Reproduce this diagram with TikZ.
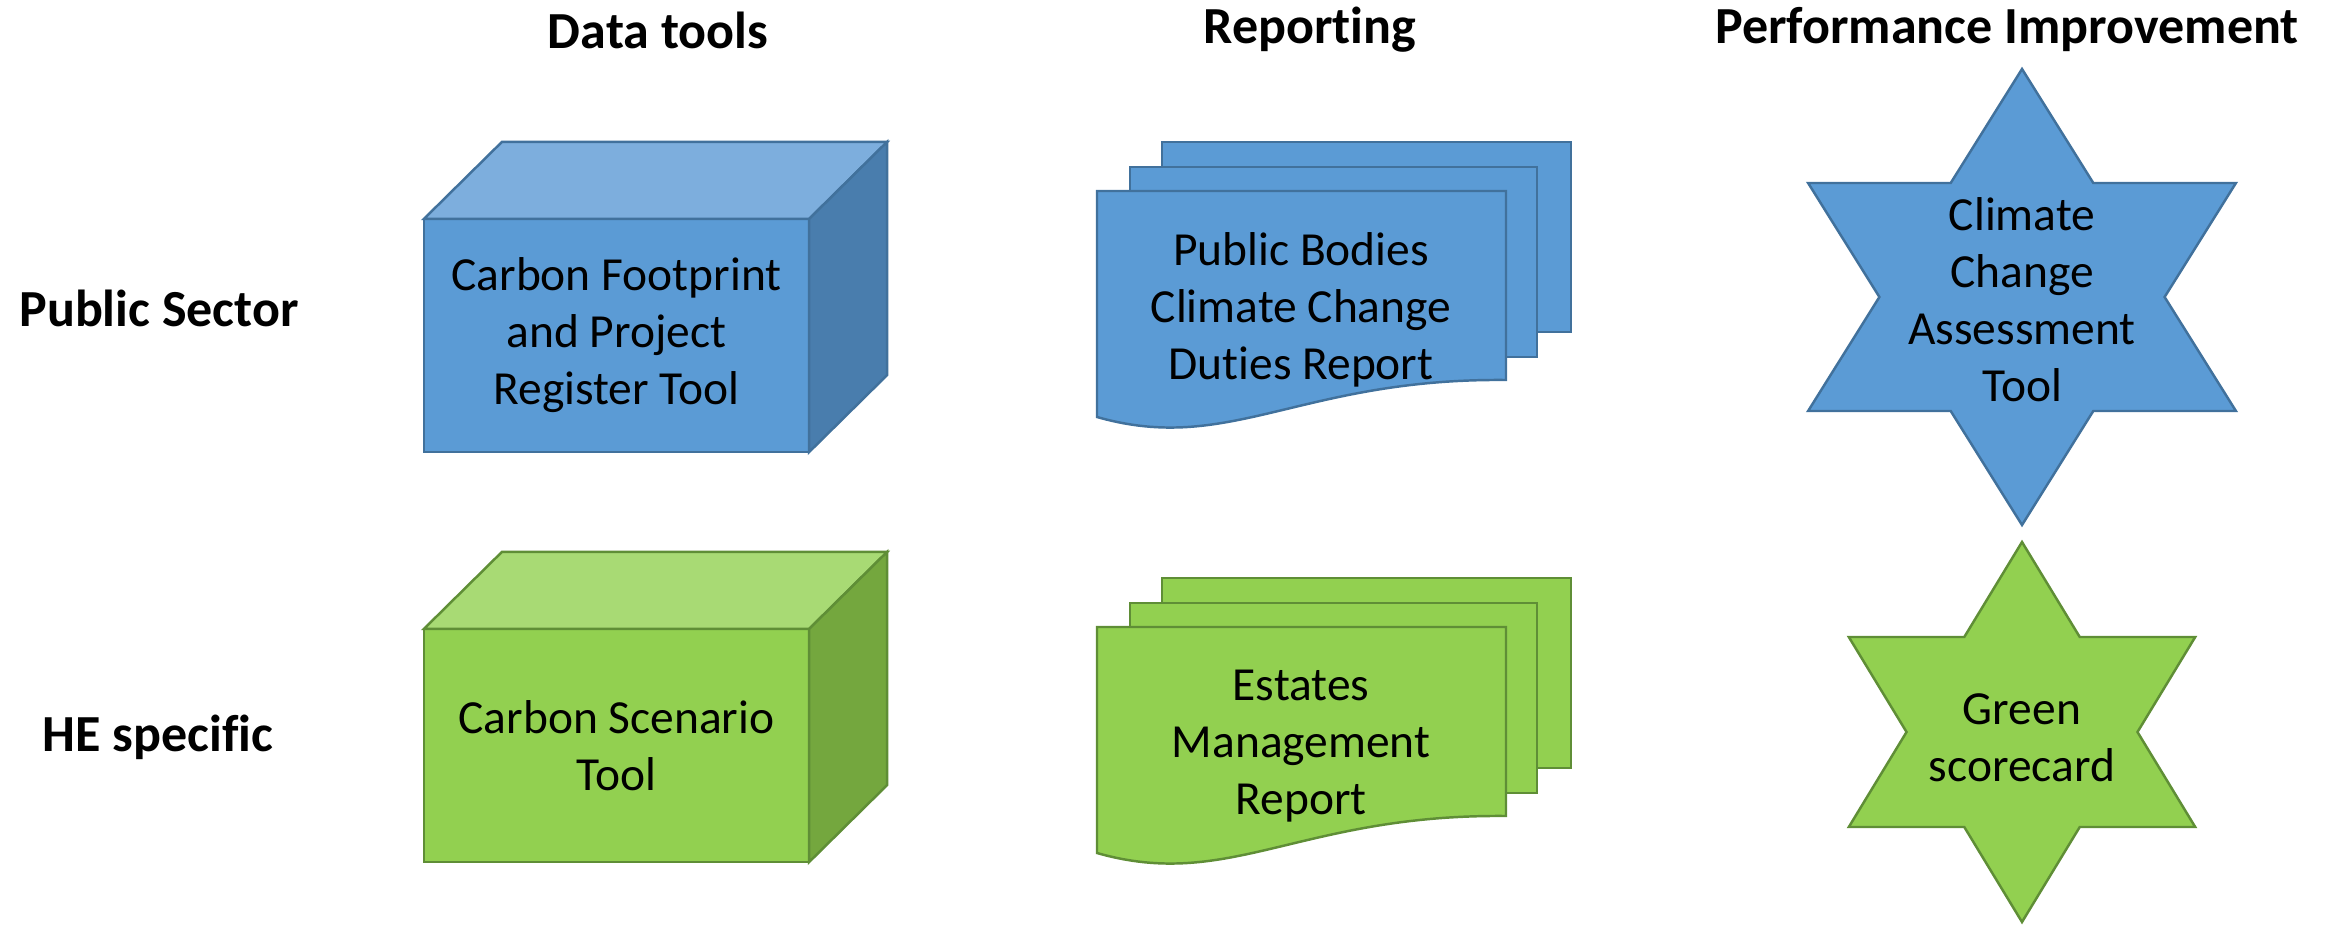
\documentclass[tikz,border=0pt]{standalone}
\usepackage{fontspec}
\setmainfont{Carlito}[Ligatures=CommonOff]
\usetikzlibrary{calc}

\definecolor{bluefront}{HTML}{5B9BD5}
\definecolor{bluetop}{HTML}{7DAEDD}
\definecolor{blueside}{HTML}{497DAD}
\definecolor{blueedge}{HTML}{41719C}
\definecolor{greenfront}{HTML}{92D050}
\definecolor{greentop}{HTML}{A8DA74}
\definecolor{greenside}{HTML}{74A73E}
\definecolor{greenedge}{HTML}{5F8E36}

\tikzset{
  body/.style={font=\fontsize{13.5}{16.2}\selectfont, align=center, inner sep=0pt},
  heading/.style={font=\fontsize{14.8}{17}\selectfont\bfseries, inner sep=0pt},
  edge/.style={draw=#1edge, line width=0.7pt, line join=miter},
  cubefront/.style={shape=rectangle, minimum width=3.85cm, minimum height=2.33cm, outer sep=0pt, body}
  }

% front face as a node, top and side faces hung off its corners
\newcommand\toolcube[4]{%
  \node[cubefront, edge=#3, fill=#3front] (#1) at #2 {#4};
  \draw[edge=#3, fill=#3top] (#1.north west) -- ++(78,-77) -- ($(#1.north east)+(78,-77)$) -- (#1.north east) -- cycle;
  \draw[edge=#3, fill=#3side] (#1.north east) -- ++(78,-77) -- ($(#1.south east)+(78,-77)$) -- (#1.south east) -- cycle;
}

% three stacked pages, #2 is the top left corner of the front one
\newcommand\reportstack[4]{%
  \begin{scope}[shift={#2}]
    \draw[edge=#3, fill=#3front] (65,-49) rectangle ++(409,190);
    \draw[edge=#3, fill=#3front] (33,-24) rectangle ++(407,190);
    \draw[edge=#3, fill=#3front] (0,0) -- (409,0) -- (409,189)
      .. controls (203,187) and (133,264) .. (0,226) -- cycle;
    \node[body] (#1) at (204,119) {#4};
  \end{scope}
}

% six pointed star, #4/#5 are the outer radii
\newcommand\hexstar[5]{%
  \pgfmathsetlengthmacro\starx{#4*0.01cm}
  \pgfmathsetlengthmacro\stary{-#5*0.01cm}
  \begin{scope}[shift={#2}, x=\starx, y=\stary]
    \coordinate (#1) at (0,0);
    \draw[edge=#3, fill=#3front] (90:1)
      \foreach \a in {120,180,...,420} { -- (\a:0.57735) -- (\a+30:1) } -- cycle;
  \end{scope}
}

\begin{document}
\begin{tikzpicture}[x=0.01cm, y=-0.01cm]
  \useasboundingbox (0,0) rectangle (2336,924);

  % column and row headings
  \node[heading] (hdata)   at (658,30)  {Data tools};
  \node[heading] (hreport) at (1310,30) {Reporting};
  \node[heading] (hperf)   at (2007,30) {Performance Improvement};
  \node[heading] (rpublic) at (159,308) {Public Sector};
  \node[heading] (rhe)     at (158,737) {HE specific};

  % public sector row
  \toolcube{cfprt}{(616.5,335.5)}{blue}{Carbon Footprint\\and Project\\Register Tool}
  \reportstack{pbccd}{(1097,191)}{blue}{Public Bodies\\Climate Change\\Duties Report}
  \hexstar{ccat}{(2022,297)}{blue}{247}{228}
  \node[body] (ccattext) at (2022,300) {Climate\\Change\\Assessment\\Tool};

  % HE specific row
  \toolcube{cst}{(616.5,745.5)}{green}{Carbon Scenario\\Tool}
  \reportstack{emr}{(1097,627)}{green}{Estates\\Management\\Report}
  \hexstar{gsc}{(2022,732)}{green}{200}{190}
  \node[body] (gsctext) at (2022,738) {Green\\scorecard};
\end{tikzpicture}
\end{document}
